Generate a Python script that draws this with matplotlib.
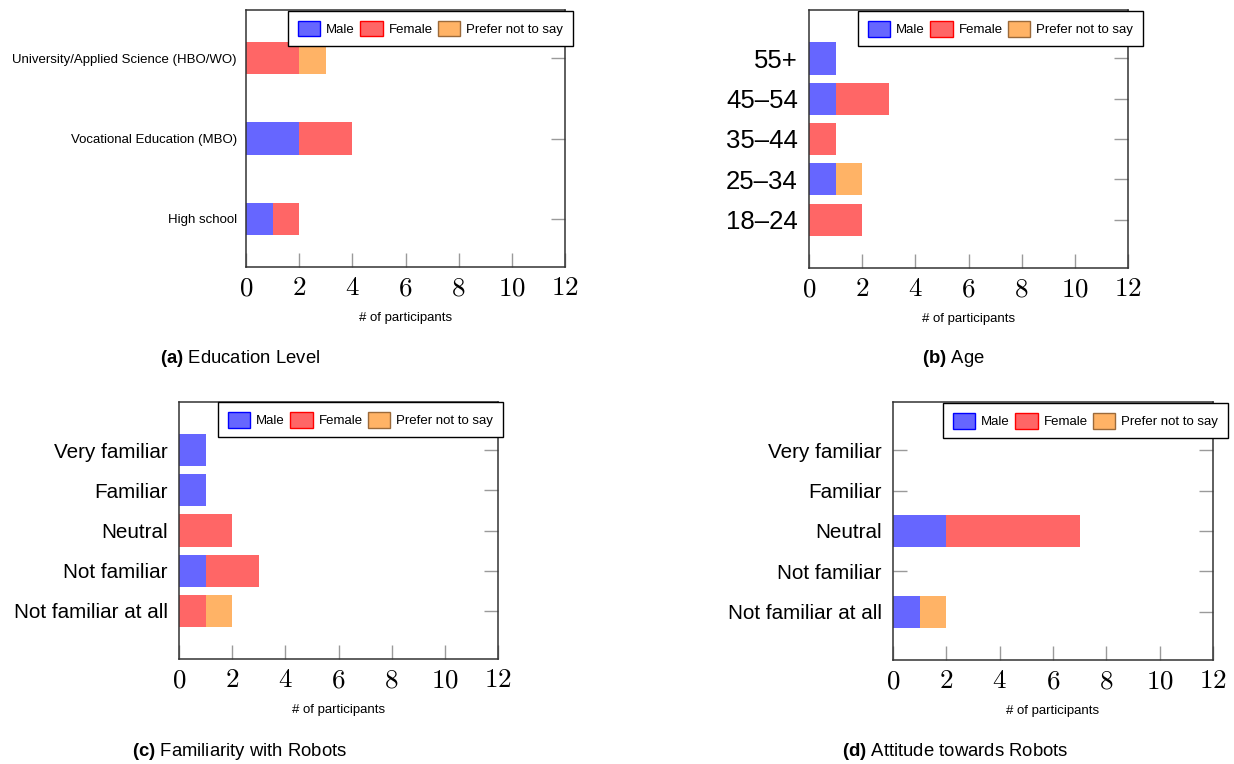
import matplotlib
matplotlib.use("Agg")
import matplotlib.pyplot as plt
from matplotlib.patches import Patch
from matplotlib.ticker import FuncFormatter
import numpy as np

plt.rcParams['font.family'] = ['Liberation Sans', 'DejaVu Sans']
plt.rcParams['mathtext.fontset'] = 'cm'
plt.rcParams['mathtext.bf'] = 'Liberation Sans:bold'
plt.rcParams['mathtext.rm'] = 'Liberation Sans'

# ---- data -------------------------------------------------------------
series_names = ["Male", "Female", "Prefer not to say"]

edu_labels = ["High school", "Vocational Education (MBO)",
              "University/Applied Science (HBO/WO)"]
edu_male = [1, 2, 0]
edu_female = [1, 2, 2]
edu_pnts = [0, 0, 1]

age_labels = ["18–24", "25–34", "35–44", "45–54", "55+"]
age_male = [0, 1, 0, 1, 1]
age_female = [2, 0, 1, 2, 0]
age_pnts = [0, 1, 0, 0, 0]

fam_labels = ["Not familiar at all", "Not familiar", "Neutral",
              "Familiar", "Very familiar"]
fam_male = [0, 1, 0, 1, 1]
fam_female = [1, 2, 2, 0, 0]
fam_pnts = [1, 0, 0, 0, 0]

att_labels = ["Not familiar at all", "Not familiar", "Neutral",
              "Familiar", "Very familiar"]
att_male = [1, 0, 2, 0, 0]
att_female = [0, 0, 5, 0, 0]
att_pnts = [1, 0, 0, 0, 0]

x_ticks = [0, 2, 4, 6, 8, 10, 12]
captions = [("(a)", "Education Level"), ("(b)", "Age"),
            ("(c)", "Familiarity with Robots"), ("(d)", "Attitude towards Robots")]

# ---- styling ----------------------------------------------------------
fills = ["#6666ff", "#ff6666", "#ffb366"]
edges = ["#0000ff", "#ff0000", "#9b6a3a"]

W, H = 1234, 764
fig = plt.figure(figsize=(W / 100, H / 100), dpi=100)


def box(l, r, t, b):
    return [l / W, 1 - b / H, (r - l) / W, (b - t) / H]


def panel(rect, labels, male, female, pnts, ylim, height, label_size,
          label_pad, legend_corner, caption, cap_xy):
    ax = fig.add_axes(rect)
    ax.set_axisbelow(True)
    y = np.arange(len(labels))
    male = np.array(male, float)
    female = np.array(female, float)
    pnts = np.array(pnts, float)
    ax.barh(y, male, height=height, color=fills[0], linewidth=0)
    ax.barh(y, female, left=male, height=height, color=fills[1], linewidth=0)
    ax.barh(y, pnts, left=male + female, height=height, color=fills[2], linewidth=0)

    ax.set_xlim(0, 12)
    ax.set_ylim(*ylim)
    ax.set_xticks(x_ticks)
    ax.xaxis.set_major_formatter(FuncFormatter(lambda v, p: f"${int(v)}$"))
    for t in ax.get_xticklabels():
        t.set_math_fontfamily('cm')
    ax.set_yticks(y)
    ax.set_yticklabels(labels, fontsize=label_size)
    ax.tick_params(axis='x', direction='in', length=10, width=1,
                   color='#9a9a9a', labelsize=19.5, pad=6, top=False)
    ax.tick_params(axis='y', direction='in', length=10, width=1,
                   color='#9a9a9a', left=True, right=True, pad=label_pad)
    for s in ax.spines.values():
        s.set_color('#333333')
        s.set_linewidth(1.1)
    ax.set_xlabel("# of participants", fontsize=9.5, labelpad=8)

    handles = [Patch(facecolor=f, edgecolor=e, linewidth=1.0)
               for f, e in zip(fills, edges)]
    lx, ly = legend_corner
    leg = fig.legend(handles, series_names, loc='upper right',
                     bbox_to_anchor=(lx / W, 1 - ly / H), ncol=3,
                     fontsize=9.5, handlelength=1.7, handleheight=1.45,
                     handletextpad=0.45, columnspacing=0.4, borderpad=0.75,
                     borderaxespad=0, fancybox=False, framealpha=1)
    leg.get_frame().set_edgecolor('black')
    leg.get_frame().set_linewidth(1.0)

    tag, rest = caption
    fig.text(cap_xy[0] / W, 1 - cap_xy[1] / H,
             r"$\mathbf{" + tag + "}$ " + rest, fontsize=13.3,
             ha='center', va='center', math_fontfamily='custom')
    return ax


panel(box(246, 565, 10, 267), edu_labels, edu_male, edu_female, edu_pnts,
      (-0.6, 2.6), 0.4, 9.5, 6.5, (573, 10.7), captions[0], (240, 358))
panel(box(809, 1128, 10, 268), age_labels, age_male, age_female, age_pnts,
      (-1.2, 5.2), 0.8, 18.5, 8, (1143, 11), captions[1], (953, 358))
panel(box(179, 498, 402, 659), fam_labels, fam_male, fam_female, fam_pnts,
      (-1.2, 5.2), 0.8, 14.9, 8, (503, 402), captions[2], (240, 751))
panel(box(893, 1213, 402, 660), att_labels, att_male, att_female, att_pnts,
      (-1.2, 5.2), 0.8, 14.9, 8, (1228, 403), captions[3], (955, 751))

fig.savefig("out.png", dpi=100, facecolor='white')
